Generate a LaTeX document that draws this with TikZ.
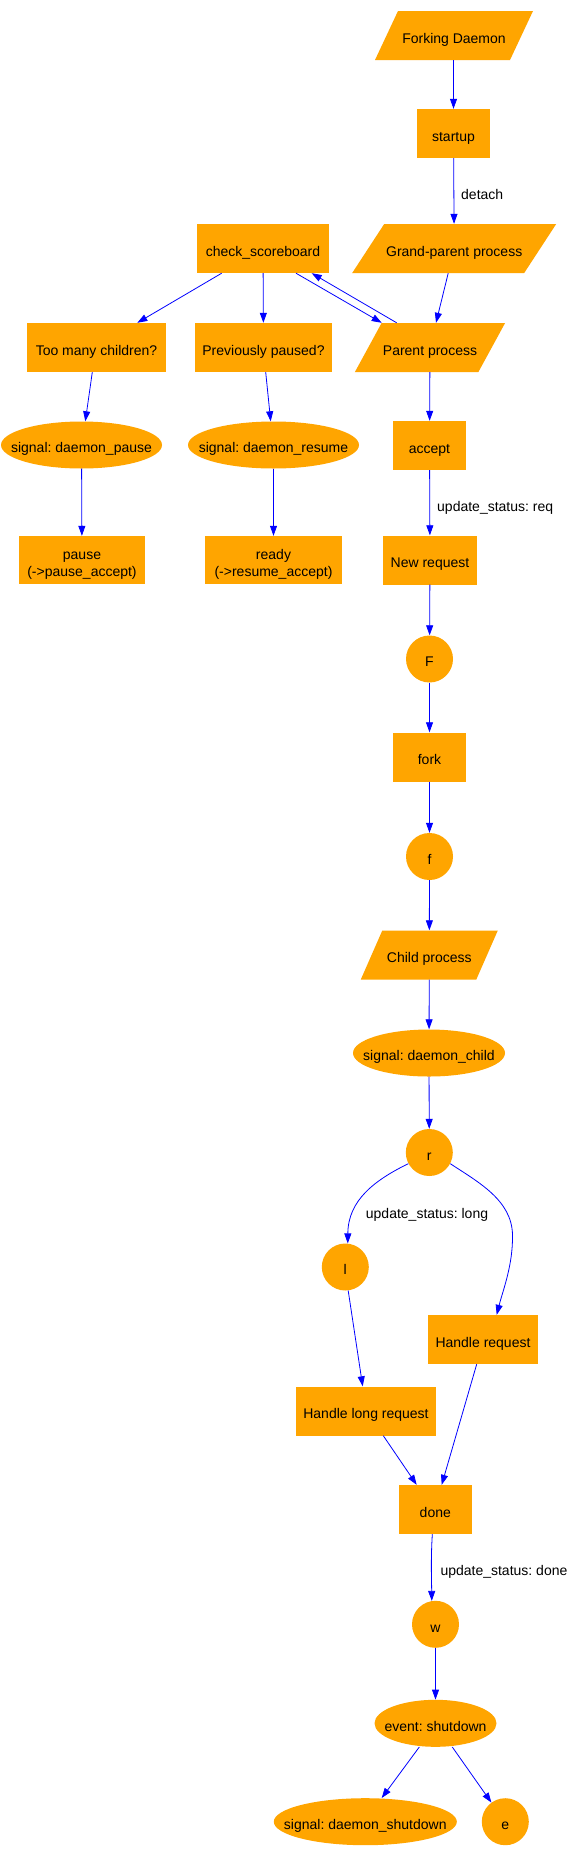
\documentclass[tikz,border=0pt]{standalone}
\usepackage{fontspec}
\setmainfont{Liberation Sans}
\usetikzlibrary{arrows.meta,shapes.geometric}
\definecolor{gvorange}{HTML}{FFA500}
\definecolor{gvblue}{HTML}{0000FF}
\frenchspacing
\newcommand\gvstrut{\rule{0pt}{15.6pt}}
\newcommand\gvpara[6]{%
  \fill[gvorange] ({#2-#4/2-#5/2},{#3+24.5}) -- ({#2+#4/2-#5/2},{#3+24.5})
    -- ({#2+#4/2+#5/2},{#3-24.5}) -- ({#2-#4/2+#5/2},{#3-24.5}) -- cycle;
  \node[paratext, minimum width=#4pt] (#1) at (#2,#3) {#6};%
}
\begin{document}
\begin{tikzpicture}[x=1pt,y=-1pt,
  font=\fontsize{14}{16.8}\selectfont\frenchspacing,
  box/.style={rectangle, fill=gvorange, inner sep=0pt, minimum height=49pt, text height=15.6pt, text depth=0pt},
  boxtwo/.style={rectangle, fill=gvorange, inner sep=0pt, minimum height=48pt, align=center},
  paratext/.style={rectangle, inner sep=0pt, minimum height=49pt, text height=15.6pt, text depth=0pt},
  oval/.style={ellipse, fill=gvorange, inner sep=0pt, minimum height=47pt, text height=15.6pt, text depth=0pt},
  disc/.style={circle, fill=gvorange, inner sep=0pt, minimum size=47pt, text height=15.6pt, text depth=0pt},
  lbl/.style={anchor=base west, inner sep=0pt},
  edge/.style={draw=gvblue, line width=0.8pt, -{Triangle[length=10pt,width=7pt]}}
]
\path[use as bounding box, fill=white] (0,0) rectangle (578,1858);

% nodes
\gvpara{fd}{454}{35.5}{135}{23}{Forking Daemon}
\node[box, minimum width=73pt] (startup) at (453.5,133.5) {startup};
\gvpara{gp}{454.2}{248.5}{172}{32}{Grand-parent process}
\node[box, minimum width=132pt] (cs) at (263,248.5) {check\_scoreboard};
\gvpara{pp}{430}{347.5}{123.5}{26.7}{Parent process}
\node[box, minimum width=139pt] (tm) at (96.5,347.5) {Too many children?};
\node[box, minimum width=137pt] (pv) at (263.5,347.5) {Previously paused?};
\node[oval, minimum width=161pt] (sp) at (81.5,445) {\makebox[0pt]{signal: daemon\_pause}};
\node[oval, minimum width=171pt] (sr) at (273.5,445) {\makebox[0pt]{signal: daemon\_resume}};
\node[boxtwo, minimum width=126pt] (pause) at (82,560) {\gvstrut pause\\\smash{(->pause\_accept)}};
\node[boxtwo, minimum width=137pt] (ready) at (273.5,560) {\gvstrut ready\\\smash{(->resume\_accept)}};
\node[box, minimum width=73pt] (accept) at (429.5,445.5) {accept};
\node[box, minimum width=94pt] (nr) at (430,560) {New request};
\node[disc] (F) at (429.5,659) {F};
\node[box, minimum width=73pt] (fork) at (429.5,757) {fork};
\node[disc] (f) at (429.5,856.5) {f};
\gvpara{cp}{429.3}{955}{115.5}{21.5}{Child process}
\node[oval, minimum width=152pt] (sc) at (429,1053) {\makebox[0pt]{signal: daemon\_child}};
\node[disc] (r) at (429.3,1152.5) {r};
\node[disc] (l) at (345.3,1267) {l};
\node[box, minimum width=110pt] (hr) at (483,1339.5) {Handle request};
\node[box, minimum width=140pt] (hlr) at (366,1411) {Handle long request};
\node[box, minimum width=73pt] (done) at (435.3,1509.5) {done};
\node[disc] (w) at (435.5,1624.3) {w};
\node[oval, minimum width=122pt] (es) at (435.5,1723.3) {\makebox[0pt]{event: shutdown}};
\node[oval, minimum width=183pt] (ss) at (365.3,1821.7) {\makebox[0pt]{signal: daemon\_shutdown}};
\node[disc] (e) at (505.3,1821.7) {e};

% edges
\draw[edge] (fd.south -| startup.north) -- (startup.north);
\draw[edge] (startup) -- (gp);
\draw[edge] ([xshift=-6pt]gp.south) -- ([xshift=6pt]pp.north);
\draw[edge] ([xshift=33pt]cs.south) -- ([xshift=-48.3pt]pp.north);
\draw[edge] ([xshift=-33.3pt]pp.north) -- ([xshift=48.7pt]cs.south);
\draw[edge] ([xshift=-41.3pt]cs.south) -- ([xshift=40.8pt]tm.north);
\draw[edge] (cs) -- (pv);
\draw[edge] ([xshift=-4.2pt]tm.south) -- ([xshift=3.8pt]sp.north);
\draw[edge] ([xshift=2.2pt]pv.south) -- ([xshift=-2.8pt]sr.north);
\draw[edge] (sp) -- (pause);
\draw[edge] (sr) -- (ready);
\draw[edge] (pp) -- (accept);
\draw[edge] (accept) -- (nr);
\draw[edge] (nr) -- (F);
\draw[edge] (F) -- (fork);
\draw[edge] (fork) -- (f);
\draw[edge] (f) -- (cp);
\draw[edge] (cp) -- (sc);
\draw[edge] (sc) -- (r);
\draw[edge] (r.208) .. controls (375,1180) and (348,1200) .. (l.84);
\draw[edge] (r.-28) .. controls (478,1182) and (512,1200) .. (512.5,1235)
  .. controls (513,1265) and (503,1290) .. ([xshift=13.7pt]hr.north);
\draw[edge] (l.-83) -- ([xshift=-3.3pt]hlr.north);
\draw[edge] ([xshift=17.3pt]hlr.south) -- ([xshift=-18.6pt]done.north);
\draw[edge] ([xshift=-6.3pt]hr.south) -- ([xshift=6.4pt]done.north);
\draw[edge] ([xshift=-3pt]done.south) .. controls (430.8,1560) and (431.5,1575) .. (w.99);
\draw[edge] (w) -- (es);
\draw[edge] ([xshift=-16.2pt]es.south) -- ([xshift=16.4pt]ss.north);
\draw[edge] ([xshift=16.8pt]es.south) -- (e.126);

% edge labels
\node[lbl] (ldetach) at (461,199) {detach};
\node[lbl] (lreq) at (437,511) {update\_status: req};
\node[lbl] (llong) at (365.7,1218) {update\_status: long};
\node[lbl] (ldone) at (440.3,1575) {update\_status: done};
\end{tikzpicture}
\end{document}
